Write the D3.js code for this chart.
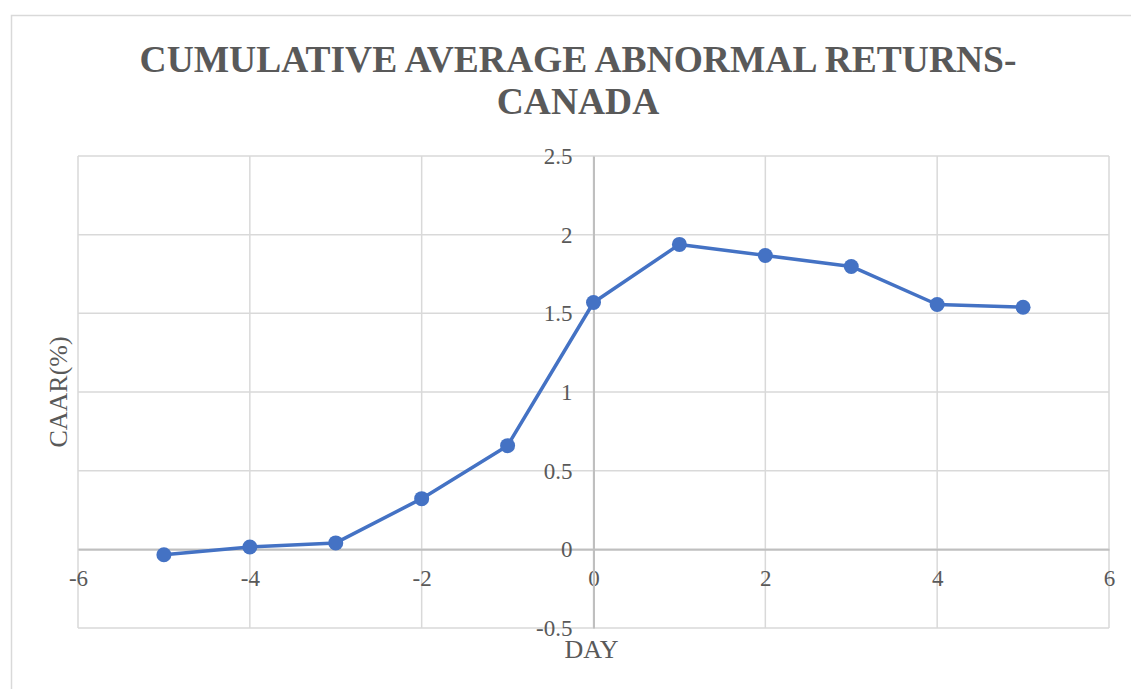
<!DOCTYPE html>
<html>
<head>
<meta charset="utf-8">
<script src="https://cdn.jsdelivr.net/npm/d3@7"></script>
<style>
  html, body { margin: 0; padding: 0; background: #fff; }
  svg { display: block; }
</style>
</head>
<body>
<svg id="chart" width="1131" height="689"></svg>
<script>
// Event-window days and cumulative average abnormal returns (%)
const days = [-5, -4, -3, -2, -1, 0, 1, 2, 3, 4, 5];
const caar = [-0.034, 0.015, 0.041, 0.322, 0.659, 1.569, 1.938, 1.868, 1.798, 1.556, 1.539];
const xTicks = [-6, -4, -2, 0, 2, 4, 6];
const yTicks = [-0.5, 0, 0.5, 1, 1.5, 2, 2.5];
const titleLines = ["CUMULATIVE AVERAGE ABNORMAL RETURNS-", "CANADA"];

const FONT = "'Liberation Serif', 'Times New Roman', serif";
const INK = "#595959";

const svg = d3.select("#chart");
const W = 1131, H = 689;

// Chart frame
svg.append("rect")
  .attr("x", 11.5).attr("y", 15.5)
  .attr("width", W).attr("height", H)
  .attr("fill", "#fff").attr("stroke", "#d9d9d9").attr("stroke-width", 1.5);

const plot = { left: 78, right: 1109, top: 156, bottom: 628 };

const x = d3.scaleLinear().domain([-6, 6]).range([plot.left, plot.right]);
const y = d3.scaleLinear().domain([-0.5, 2.5]).range([plot.bottom, plot.top]);

// Title
svg.append("text")
  .attr("font-family", FONT).attr("fill", INK)
  .attr("text-anchor", "middle")
  .attr("font-size", 37.5).attr("font-weight", "bold")
  .selectAll("tspan").data(titleLines).join("tspan")
  .attr("x", 578)
  .attr("y", (d, i) => 72 + i * 42)
  .text(d => d);

// Gridlines
const grid = svg.append("g");
grid.selectAll("line.v").data(xTicks).join("line")
  .attr("class", "v")
  .attr("x1", d => x(d)).attr("x2", d => x(d))
  .attr("y1", plot.top).attr("y2", plot.bottom)
  .attr("stroke", "#d9d9d9").attr("stroke-width", 1.5);
grid.selectAll("line.h").data(yTicks).join("line")
  .attr("class", "h")
  .attr("x1", plot.left).attr("x2", plot.right)
  .attr("y1", d => y(d)).attr("y2", d => y(d))
  .attr("stroke", "#d9d9d9").attr("stroke-width", 1.5);

// Axes crossing at the origin
const xAxis = d3.axisBottom(x).tickValues(xTicks).tickSize(0).tickPadding(20)
  .tickFormat(d => String(d));
const gx = svg.append("g").attr("transform", `translate(0,${y(0)})`).call(xAxis);
gx.select(".domain").attr("stroke", "#bfbfbf").attr("stroke-width", 2);
gx.selectAll("text").attr("font-size", 23).attr("font-family", FONT).attr("fill", INK);

const yAxis = d3.axisLeft(y).tickValues(yTicks).tickSize(0).tickPadding(21)
  .tickFormat(d => String(d));
const gy = svg.append("g").attr("transform", `translate(${x(0)},0)`).call(yAxis);
gy.select(".domain").attr("stroke", "#bfbfbf").attr("stroke-width", 2);
gy.selectAll("text").attr("font-size", 23).attr("font-family", FONT).attr("fill", INK);

// Axis titles
svg.append("text")
  .attr("transform", `translate(67,${(plot.top + plot.bottom) / 2}) rotate(-90)`)
  .attr("text-anchor", "middle").attr("font-size", 26)
  .attr("font-family", FONT).attr("fill", INK)
  .text("CAAR(%)");
svg.append("text")
  .attr("x", x(0) - 2).attr("y", 658)
  .attr("text-anchor", "middle").attr("font-size", 26)
  .attr("font-family", FONT).attr("fill", INK)
  .text("DAY");

// Series line and markers
const pts = days.map((d, i) => [d, caar[i]]);
svg.append("path")
  .datum(pts)
  .attr("fill", "none").attr("stroke", "#4472c4").attr("stroke-width", 3.5)
  .attr("stroke-linejoin", "round")
  .attr("d", d3.line().x(d => x(d[0])).y(d => y(d[1])));
svg.append("g").selectAll("circle").data(pts).join("circle")
  .attr("cx", d => x(d[0])).attr("cy", d => y(d[1])).attr("r", 7.5)
  .attr("fill", "#4472c4");
</script>
</body>
</html>
